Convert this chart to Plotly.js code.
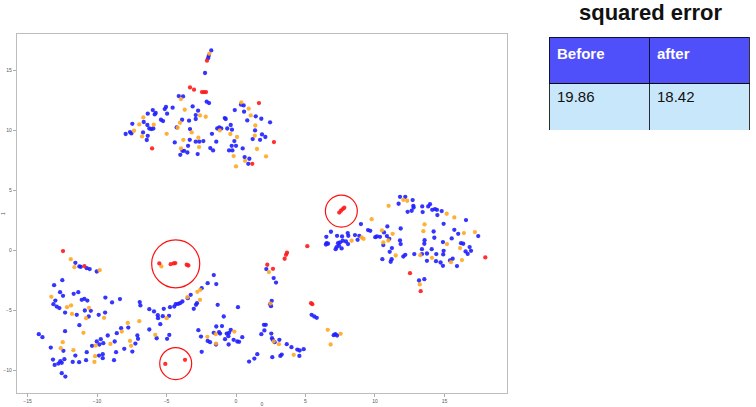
<!DOCTYPE html>
<html>
<head>
<meta charset="utf-8">
<script src="https://cdn.plot.ly/plotly-3.0.1.min.js"></script>
<style>html,body{margin:0;padding:0;background:#fff;}#chart{width:756px;height:407px;}</style>
</head>
<body>
<div id="chart"></div>
<script>
// ---- data ----
const blueX = [-1.78,-1.96,-2.01,-2.23,-4.12,-3.81,-2.11,-1.94,-4.56,-5.04,-5.13,-3.12,-2.73,-2.9,-3.38,-2.9,-3.88,-5.4,-5.25,-4.96,-5.99,-5.78,-5.85,-6.35,-6.64,-7.46,-6.38,-6.24,-6.09,-5.95,-6.69,-7.63,-7.53,-7.94,-6.35,-6.42,-4.27,-3.31,-4.41,-3.86,-3.74,-4.01,-3.45,-3.5,-2.9,-2.64,-2.35,-2.76,-1.73,-1.85,-1.65,-1.42,-0.81,-0.74,-1.35,-1.2,-1.06,-0.63,-0.38,-0.29,-0.12,-0.31,0,-0.5,-0.26,0.48,-0.09,0.36,0.55,0.58,0.81,1.42,1.82,2.45,1.37,1.87,2.11,1.73,1.2,0.62,0.96,0.88,-3.33,
 11.8,12.18,11.7,12.71,12.76,12.78,12.35,12.64,13.4,13.83,13.96,13.43,14.12,14.32,14.46,14.8,14.49,16.55,14.94,15.71,17.43,15.99,14.22,14.27,15.52,14.89,16.19,16.35,16.81,16.91,16.52,16.67,15.9,15.59,15.4,14.94,14.91,14.72,14.89,14.41,14.39,14.08,13.38,13.38,12.83,13.74,13.74,13.57,13.55,13.17,13.55,8.99,9.5,9.66,10.65,10.89,11.85,10.86,11.03,10.02,10.14,10.36,11.8,11.85,10.6,11.22,11.06,11.2,11.13,10.53,12.04,12.18,8.87,8.75,8.56,8.04,8.08,7.63,7.68,7.91,8.06,7.27,7.34,7.48,7.41,7.24,7.17,7.6,6.83,6.5,6.52,6.62,6.47,
 -11.56,-11.27,-11.17,-10.74,-10.53,-10.02,-12.5,-13.09,-12.66,-12.45,-13.0,-13.14,-12.9,-12.71,-12.3,-11.68,-11.35,-11.1,-10.91,-10.7,-10.88,-10.45,-11.46,-10.6,-11.27,-9.4,-8.92,-8.35,-9.88,-9.42,-12.3,-14.19,-13.93,-13.33,-12.42,-11.56,-13.17,-13.05,-12.78,-12.64,-12.35,-12.54,-11.75,-11.29,-10.74,-10.79,-10.36,-10.02,-9.83,-9.86,-9.59,-9.59,-8.78,-9.73,-9.55,-9.23,-8.73,-8.58,-8.27,-7.75,-8.63,-8.04,-7.24,-7.1,-7.05,-7.46,-6.93,-6.88,-6.24,-5.9,-5.63,-5.61,-5.45,-5.2,-5.27,-4.82,-4.75,-4.44,-4.34,-4.17,-6.24,-5.71,-4.8,-4.96,-12.54,-12.28,
 -1.6,-1.42,-2.04,-2.47,-3.26,-3.47,-3.86,-4.03,-2.81,-2.88,-3.04,-1.32,0.14,-0.88,-2.71,-2.52,-1.42,-1.01,-1.6,-1.22,-1.15,-0.67,-0.5,-0.38,-0.55,-0.79,-0.17,0.09,0.45,-2.04,-1.87,-1.44,-0.53,0.22,-2.47,0.94,1.32,1.53,2.01,2.14,2.04,1.82,2.54,2.59,2.64,2.78,3.12,3.65,3.99,4.41,4.58,4.87,4.56,2.61,3.19,3.29,2.45,2.57,2.52,2.71,2.88,2.18,5.44,5.63,5.81,7.03,7.14,7.27];
const blueY = [16.63,16.19,15.99,14.75,12.83,12.8,12.36,12.25,11.86,11.92,11.75,11.97,11.61,11.25,10.78,10.92,10.86,10.86,10.75,11.36,11.66,11.42,11.3,11.36,10.67,10.52,10.42,10.13,10.08,10.13,9.8,9.83,9.72,9.67,9.52,9.17,10.22,10.08,8.97,8.27,8.27,7.94,8.69,8.13,9.03,9.03,9.08,8.0,9.69,8.5,8.3,9.03,11.0,10.92,10.13,10.22,10.13,10.13,10.42,10.03,9.08,8.69,8.69,8.3,8.3,8.47,11.66,12.11,12.05,11.53,10.8,11.14,10.94,10.64,9.97,9.64,9.42,9.19,9.25,7.75,7.61,7.19,9.19,
 4.44,4.44,3.86,4.17,3.69,3.55,3.19,3.28,3.64,3.64,3.83,3.17,3.36,3.42,3.36,3.25,2.92,2.5,2.19,1.69,1.17,1.36,1.55,1.03,0.97,0.67,0.58,0.53,0.25,-0.06,-0.11,-0.31,-1.33,-0.72,-0.86,-0.06,-0.36,-1.03,-1.31,-0.33,-0.92,0.08,0.08,-0.33,-0.33,-0.28,-0.89,0.83,0.53,-2.53,-2.42,2.17,1.67,1.61,1.47,1.97,1.8,1.17,0.94,1.08,1.14,1.11,0.8,0.5,0.42,0.17,-0.14,-0.75,-0.97,-0.75,-0.53,-0.39,1.19,0.86,1.25,1.42,1.19,1.14,0.78,0.72,0.5,1.19,0.58,0.64,0.36,0.25,0.08,0.14,1.53,1.11,0.58,0.53,0.47,
 -1.06,-1.36,-1.39,-1.5,-1.58,-1.78,-2.5,-2.92,-3.5,-3.81,-4.2,-4.5,-4.7,-4.83,-5.2,-3.64,-3.5,-4.14,-4.06,-4.2,-5.03,-5.06,-5.39,-5.53,-6.25,-3.95,-4.36,-4.08,-5.39,-5.2,-6.75,-7.0,-7.25,-8.12,-8.39,-8.78,-9.12,-9.56,-9.45,-9.25,-9.08,-9.39,-9.31,-9.33,-8.5,-9.17,-7.97,-7.61,-7.86,-8.78,-8.67,-9.0,-9.17,-7.42,-7.75,-7.11,-7.61,-6.92,-6.5,-6.45,-8.5,-8.22,-7.78,-7.11,-7.39,-8.45,-4.33,-4.61,-4.92,-5.11,-5.42,-5.67,-6.17,-4.89,-5.5,-5.47,-4.75,-4.7,-4.5,-4.48,-6.61,-7.34,-7.06,-7.39,-10.25,-10.53,
 -2.08,-2.83,-2.75,-3.17,-3.72,-4.0,-4.28,-4.42,-4.42,-4.56,-4.89,-4.56,-4.75,-5.53,-6.67,-7.2,-6.36,-6.33,-6.89,-6.83,-6.95,-6.95,-6.89,-6.64,-7.17,-7.42,-7.47,-7.61,-7.25,-7.56,-7.67,-7.86,-7.86,-7.64,-8.47,-9.28,-9.03,-8.67,-6.22,-6.22,-6.69,-7.0,-6.95,-7.33,-7.47,-7.67,-7.47,-7.83,-8.08,-8.28,-8.36,-8.25,-8.81,-8.92,-8.81,-8.7,-4.5,-4.22,-4.67,-2.33,-2.7,-1.58,-5.39,-5.53,-5.64,-7.08,-7.0,-7.11];
const orangeX = [-1.92,-3.96,-3.69,-2.59,-2.18,-4.03,-6.67,-6.96,-5.92,-7.34,-6.76,-4.99,-4.2,-3.19,-3.79,-3.96,-2.71,-2.66,-1.17,-0.41,0.07,-0.17,0,0.38,0.91,1.06,1.39,1.35,1.51,0.65,2.16,
 10.98,12.04,12.32,15.16,15.71,13.57,13.48,16.4,17.19,15.18,16.12,16.26,15.47,14.1,13.26,13.22,9.76,10.5,11.27,10.96,10.6,11.49,9.04,9.18,8.32,
 -11.89,-11.63,-9.81,-5.37,-13.29,-12.16,-11.87,-10.58,-11.8,-10.79,-9.5,-10.98,-12.47,-12.61,-11.7,-10.19,-10.14,-10.1,-9.04,-8.22,-7.79,-7.63,-7.55,-6.96,-4.99,-5.81,
 -2.57,-2.78,-3.5,-2.59,-1.46,-0.12,-2.06,-1.44,2.71,3.09,4.15,2.47,2.37,6.6,7.53,6.81];
const orangeY = [16.36,12.58,11.69,11.22,11.11,10.61,11.05,10.47,10.44,9.94,9.47,9.69,10.19,9.8,9.19,8.47,9.36,8.58,9.97,9.67,9.42,7.83,6.97,12.3,11.78,11.22,10.38,9.53,8.42,7.44,7.8,
 3.69,4.19,4.11,3.03,2.72,2.14,1.58,1.42,1.5,0.5,0.17,-0.83,-1.0,-0.64,-0.42,-2.86,2.58,1.64,1.36,0.8,0.64,-0.45,1.05,0.94,0.78,
 -0.75,-1.42,-1.67,-1.36,-3.89,-4.75,-4.61,-4.81,-5.31,-5.67,-5.64,-6.89,-7.67,-8.17,-8.33,-9.31,-8.83,-7.95,-7.81,-6.78,-6.06,-7.56,-7.97,-5.92,-5.67,-7.06,
 -3.31,-3.47,-3.92,-4.14,-7.0,-6.78,-7.22,-7.78,-7.61,-7.83,-8.72,-4.45,-1.83,-6.64,-6.97,-7.86];
const redX = [-2.09,-3.31,-3.02,-2.45,-2.3,-2.16,1.65,2.73,1.17,-6.04,
 7.43,7.55,7.68,7.79,5.13,17.94,12.52,13.29,
 -12.45,-10.91,-5.52,-4.7,-4.48,-4.37,-3.55,-3.43,-5.09,-3.67,
 2.25,2.66,3.5,3.6,3.67,5.4,5.49];
const redY = [15.78,13.55,13.36,13.16,13.16,13.16,12.25,9.0,7.19,8.47,
 3.13,3.28,3.42,3.53,0.33,-0.61,-1.92,-3.42,
 -0.08,-1.33,-1.11,-1.17,-1.11,-1.08,-1.22,-1.28,-9.48,-9.14,
 -1.22,-1.56,-0.72,-0.39,-0.22,-4.42,-4.5];
// highlight circles (centre and radii, data units)
const circleX = [-4.34, 7.58, -4.34];
const circleY = [-1.14, 3.25, -9.45];
const circleRx = [1.73, 1.15, 1.15];
const circleRy = [2.0, 1.33, 1.33];
// table
const tableTitle = "squared error";
const tableHeader = ["Before", "after"];
const tableValues = [19.86, 18.42];
// axes ticks
const xTicks = [-15, -10, -5, 0, 5, 10, 15];
const yTicks = [-10, -5, 0, 5, 10, 15];

const W = 756, H = 407;
const FONT = '"Liberation Sans", Arial, sans-serif';

function pts(x, y, color) {
  return {type: 'scatter', mode: 'markers', x: x, y: y, xaxis: 'x', yaxis: 'y',
    marker: {color: color, size: 4.3, opacity: 0.9, line: {width: 0}},
    hoverinfo: 'skip', showlegend: false};
}

const traces = [
  pts(blueX, blueY, '#1f1fff'),
  pts(orangeX, orangeY, '#ffa820'),
  pts(redX, redY, '#ff1a1a'),
  {
    type: 'table',
    domain: {x: [549 / W, 749 / W], y: [1 - 131 / H, 1 - 37 / H]},
    columnwidth: [1, 1],
    header: {
      values: tableHeader.map(t => '<b>' + t + '</b>'),
      align: 'left', height: 46,
      fill: {color: '#5050fb'},
      line: {color: '#000', width: 0.8},
      font: {family: FONT, size: 15, color: '#ffffff'}
    },
    cells: {
      values: tableValues.map(v => [v.toFixed(2)]),
      align: 'left', height: 47,
      fill: {color: '#c9e7fb'},
      line: {color: '#000', width: 0.8},
      font: {family: FONT, size: 15, color: '#111'}
    }
  }
];

const shapes = circleX.map((cx, i) => ({
  type: 'circle', xref: 'x', yref: 'y',
  x0: cx - circleRx[i], x1: cx + circleRx[i],
  y0: circleY[i] - circleRy[i], y1: circleY[i] + circleRy[i],
  line: {color: '#ff1010', width: 1.2}
}));

const axisCommon = {
  showgrid: false, zeroline: false, showline: true, mirror: true,
  linecolor: '#bdbdbd', linewidth: 1.2,
  ticks: 'outside', ticklen: 3, tickwidth: 0.8, tickcolor: '#999',
  tickfont: {family: FONT, size: 5, color: '#555'},
  tickmode: 'array'
};

const layout = {
  width: W, height: H,
  margin: {l: 0, r: 0, t: 0, b: 0},
  paper_bgcolor: '#fff', plot_bgcolor: '#fff',
  showlegend: false,
  xaxis: Object.assign({}, axisCommon, {
    domain: [17 / W, 507 / W], range: [-15.76, 19.5],
    tickvals: xTicks, ticktext: xTicks.map(v => v < 0 ? '\u2212' + (-v) : String(v)),
    title: {text: '0', font: {family: FONT, size: 5, color: '#555'}, standoff: 2}
  }),
  yaxis: Object.assign({}, axisCommon, {
    domain: [1 - 393 / H, 1 - 34 / H], range: [-11.9, 18.0],
    tickvals: yTicks, ticktext: yTicks.map(v => v < 0 ? '\u2212' + (-v) : String(v)),
    title: {text: '1', font: {family: FONT, size: 5, color: '#555'}, standoff: 2}
  }),
  shapes: shapes,
  annotations: [{
    xref: 'paper', yref: 'paper', x: 650 / W, y: 1 - 26 / H,
    xanchor: 'center', yanchor: 'bottom', showarrow: false, borderpad: 0,
    text: '<b>' + tableTitle + '</b>',
    font: {family: FONT, size: 22, color: '#111'}
  }]
};

Plotly.newPlot('chart', traces, layout, {staticPlot: true, displayModeBar: false});
</script>
</body>
</html>
